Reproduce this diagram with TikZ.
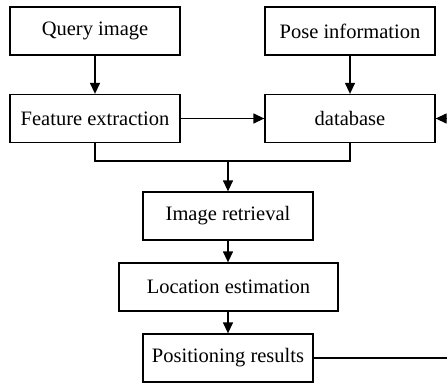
\documentclass[tikz,border=0pt]{standalone}
\usepackage{fontspec}
\setmainfont{Liberation Serif}
\usetikzlibrary{arrows.meta}
\begin{document}
\begin{tikzpicture}[x=1pt,y=-1pt,
  box/.style={draw, line width=1.3pt, inner sep=0pt, minimum width=170pt, minimum height=48pt, font=\fontsize{20.5}{24}\selectfont},
  conn/.style={line width=1.3pt},
  arr/.style={conn, -{Triangle[length=11pt,width=10pt]}}]
\useasboundingbox (0,0) rectangle (447,383);
\node[box] (q) at (95,31) {Query image};
\node[box] (p) at (350,31) {Pose information};
\node[box] (f) at (95,118.5) {Feature extraction};
\node[box] (d) at (350,118.5) {database};
\node[box] (ir) at (228,216) {Image retrieval};
\node[box, minimum width=219pt] (le) at (228.5,287) {Location estimation};
\node[box] (pr) at (228,358) {Positioning results};
\coordinate (j) at (228,161);
\coordinate (r1) at (447,118.5);
\coordinate (r2) at (447,358);
\draw[arr] (q) -- (f);
\draw[arr] (p) -- (d);
\draw[arr] (f) -- (d);
\draw[arr] (r1) -- (d.east);
\draw[conn] (f.south) -- (f.south |- j) -- (d.south |- j) -- (d.south);
\draw[arr] (j) -- (ir.north);
\draw[arr] (ir) -- (ir |- le.north);
\draw[arr] (le.south -| pr) -- (pr);
\draw[conn] (pr.east) -- (r2);
\end{tikzpicture}
\end{document}
